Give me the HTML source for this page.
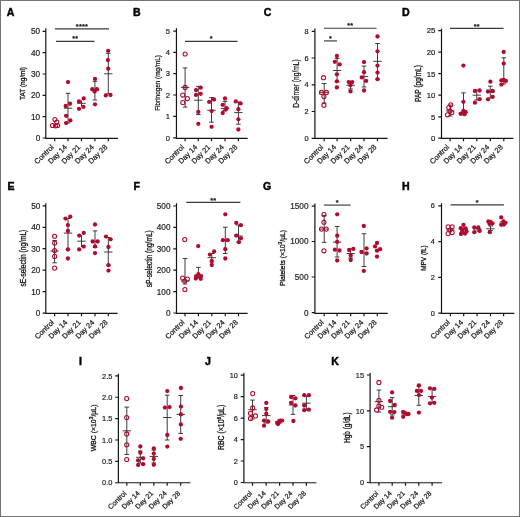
<!DOCTYPE html>
<html><head><meta charset="utf-8"><title>Figure</title>
<style>
html,body{margin:0;padding:0;background:#fff;}
body{width:520px;height:517px;overflow:hidden;}
.fig{position:relative;width:518px;height:515px;border:1px solid #747474;background:#fff;}
svg{position:absolute;left:-1px;top:-1px;filter:blur(0.3px);}
text{font-family:"Liberation Sans", sans-serif;fill:#222;}
.let{font-size:10.6px;font-weight:bold;fill:#000;stroke:#000;stroke-width:0.45px;}
.tl{fill:#1e1e1e;stroke:#1e1e1e;stroke-width:0.2px;}
.xl{fill:#1e1e1e;stroke:#1e1e1e;stroke-width:0.25px;}
.yl{fill:#111;stroke:#111;stroke-width:0.22px;}
.b{stroke-width:0.3px;}
.st{font-size:7.2px;fill:#111;font-weight:bold;stroke:#111;stroke-width:0.15px;letter-spacing:0.3px;}
.ax{stroke:#151515;stroke-width:1.2;fill:none;}
.sg{stroke:#3a3a3a;stroke-width:1.15;fill:none;}
.eb{stroke:#333;stroke-width:0.95;fill:none;}
.pf{fill:#b20a2e;}
.po{fill:none;stroke:#b20a2e;stroke-width:1.05;}
</style></head>
<body><div class="fig">
<svg width="520" height="517" viewBox="0 0 520 517">
<g><text x="6.8" y="16" class="let">A</text><path class="ax" d="M45.8 28.3V138.35H117.9"/><path class="ax" d="M42.6 31.3H45.8M42.6 52.6H45.8M42.6 74H45.8M42.6 95.3H45.8M42.6 116.7H45.8M42.6 138H45.8M54.7 138.35V141.35M68 138.35V141.35M81.5 138.35V141.35M94.9 138.35V141.35M108.3 138.35V141.35"/><text x="40.2" y="34.26" class="tl" font-size="8.21" text-anchor="end">50</text><text x="40.2" y="55.56" class="tl" font-size="8.21" text-anchor="end">40</text><text x="40.2" y="76.96" class="tl" font-size="8.21" text-anchor="end">30</text><text x="40.2" y="98.26" class="tl" font-size="8.21" text-anchor="end">20</text><text x="40.2" y="119.66" class="tl" font-size="8.21" text-anchor="end">10</text><text x="40.2" y="140.96" class="tl" font-size="8.21" text-anchor="end">0</text><text transform="translate(54.2,147.65) rotate(-45)" class="xl" font-size="7.4" text-anchor="end">Control</text><text transform="translate(67.5,147.65) rotate(-45)" class="xl" font-size="7.4" text-anchor="end">Day 14</text><text transform="translate(81,147.65) rotate(-45)" class="xl" font-size="7.4" text-anchor="end">Day 21</text><text transform="translate(94.4,147.65) rotate(-45)" class="xl" font-size="7.4" text-anchor="end">Day 24</text><text transform="translate(107.8,147.65) rotate(-45)" class="xl" font-size="7.4" text-anchor="end">Day 28</text><text transform="translate(24.82,83.5) rotate(-90)" class="yl b" font-size="8.0" text-anchor="middle" textLength="33" lengthAdjust="spacingAndGlyphs">TAT (ng/ml)</text><path class="sg" d="M55 28.9H109"/><text x="82" y="29" class="st" text-anchor="middle">****</text><path class="sg" d="M56 41.3H94.5"/><text x="75.25" y="41.4" class="st" text-anchor="middle">**</text><circle cx="54.9" cy="119.6" r="2.05" class="po"/><circle cx="56.8" cy="122" r="2.05" class="po"/><circle cx="52.5" cy="125.5" r="2.05" class="po"/><circle cx="55.6" cy="125.8" r="2.05" class="po"/><circle cx="57.6" cy="125.5" r="2.05" class="po"/><path class="eb" d="M68 93.3V123M65.7 93.3H70.3M65.7 123H70.3M63.8 108.2H72.2"/><circle cx="68" cy="82.1" r="2.15" class="pf"/><circle cx="70" cy="103.75" r="2.15" class="pf"/><circle cx="65.7" cy="106" r="2.15" class="pf"/><circle cx="66.1" cy="115.8" r="2.15" class="pf"/><circle cx="70.4" cy="120.4" r="2.15" class="pf"/><circle cx="66.1" cy="123.1" r="2.15" class="pf"/><path class="eb" d="M81.5 100.5V106.5M77.3 103.3H85.7"/><circle cx="83.7" cy="98.4" r="2.15" class="pf"/><circle cx="79" cy="101.4" r="2.15" class="pf"/><circle cx="83.5" cy="106.9" r="2.15" class="pf"/><circle cx="79" cy="108.8" r="2.15" class="pf"/><path class="eb" d="M94.9 81.4V100M92.6 81.4H97.2M92.6 100H97.2M90.7 90.6H99.1"/><circle cx="95" cy="78.9" r="2.15" class="pf"/><circle cx="92.3" cy="89.2" r="2.15" class="pf"/><circle cx="96.9" cy="89.2" r="2.15" class="pf"/><circle cx="94.6" cy="91.5" r="2.15" class="pf"/><circle cx="95" cy="104.3" r="2.15" class="pf"/><path class="eb" d="M108.3 53.3V93.8M106 53.3H110.6M106 93.8H110.6M104.1 73.8H112.5"/><circle cx="108.2" cy="50.8" r="2.15" class="pf"/><circle cx="107.9" cy="60.1" r="2.15" class="pf"/><circle cx="108.2" cy="68.7" r="2.15" class="pf"/><circle cx="105.8" cy="95.4" r="2.15" class="pf"/><circle cx="110.5" cy="95" r="2.15" class="pf"/></g>
<g><text x="133.1" y="15.7" class="let">B</text><path class="ax" d="M176.45 28.3V138.35H247.7"/><path class="ax" d="M173.25 31.1H176.45M173.25 52.4H176.45M173.25 73.7H176.45M173.25 95H176.45M173.25 116.4H176.45M173.25 137.8H176.45M185.1 138.35V141.35M198.3 138.35V141.35M211.5 138.35V141.35M225 138.35V141.35M238.4 138.35V141.35"/><text x="170.1" y="33.84" class="tl" font-size="7.6" text-anchor="end">5</text><text x="170.1" y="55.14" class="tl" font-size="7.6" text-anchor="end">4</text><text x="170.1" y="76.44" class="tl" font-size="7.6" text-anchor="end">3</text><text x="170.1" y="97.74" class="tl" font-size="7.6" text-anchor="end">2</text><text x="170.1" y="119.14" class="tl" font-size="7.6" text-anchor="end">1</text><text x="170.1" y="140.54" class="tl" font-size="7.6" text-anchor="end">0</text><text transform="translate(184.6,147.65) rotate(-45)" class="xl" font-size="7.4" text-anchor="end">Control</text><text transform="translate(197.8,147.65) rotate(-45)" class="xl" font-size="7.4" text-anchor="end">Day 14</text><text transform="translate(211,147.65) rotate(-45)" class="xl" font-size="7.4" text-anchor="end">Day 21</text><text transform="translate(224.5,147.65) rotate(-45)" class="xl" font-size="7.4" text-anchor="end">Day 24</text><text transform="translate(237.9,147.65) rotate(-45)" class="xl" font-size="7.4" text-anchor="end">Day 28</text><text transform="translate(159.88,83) rotate(-90)" class="yl" font-size="7.6" text-anchor="middle" textLength="55.6" lengthAdjust="spacingAndGlyphs">Fibrinogen (mg/mL)</text><path class="sg" d="M185 41.3H237.6"/><text x="211.3" y="41.4" class="st" text-anchor="middle">*</text><path class="eb" d="M185.1 67.9V107.1M182.8 67.9H187.4M182.8 107.1H187.4M180.9 87.4H189.3"/><circle cx="185.1" cy="54" r="2.05" class="po"/><circle cx="185.1" cy="87.4" r="2.05" class="po"/><circle cx="182.8" cy="95.1" r="2.05" class="po"/><circle cx="187.4" cy="98.6" r="2.05" class="po"/><circle cx="182.8" cy="102.5" r="2.05" class="po"/><path class="eb" d="M198.3 86.4V114.6M196 86.4H200.6M196 114.6H200.6M194.1 100.2H202.5"/><circle cx="200.7" cy="87.7" r="2.15" class="pf"/><circle cx="196" cy="90.1" r="2.15" class="pf"/><circle cx="196" cy="94.9" r="2.15" class="pf"/><circle cx="200.7" cy="93.8" r="2.15" class="pf"/><circle cx="198.3" cy="111.9" r="2.15" class="pf"/><circle cx="198.3" cy="123.8" r="2.15" class="pf"/><path class="eb" d="M211.5 97.6V122.2M209.2 97.6H213.8M209.2 122.2H213.8M207.3 110.3H215.7"/><circle cx="209.2" cy="101.9" r="2.15" class="pf"/><circle cx="214" cy="99.5" r="2.15" class="pf"/><circle cx="211.6" cy="111.1" r="2.15" class="pf"/><circle cx="211.6" cy="126.8" r="2.15" class="pf"/><path class="eb" d="M225 101.4V110.5M222.7 101.4H227.3M222.7 110.5H227.3M220.8 108.6H229.2"/><circle cx="225" cy="98.5" r="2.15" class="pf"/><circle cx="222.7" cy="104.8" r="2.15" class="pf"/><circle cx="226.6" cy="108.2" r="2.15" class="pf"/><circle cx="225.6" cy="109.7" r="2.15" class="pf"/><circle cx="222.7" cy="113" r="2.15" class="pf"/><path class="eb" d="M238.4 102V124.2M236.1 102H240.7M236.1 124.2H240.7M234.2 112.6H242.6"/><circle cx="235.8" cy="101.4" r="2.15" class="pf"/><circle cx="240.6" cy="103.4" r="2.15" class="pf"/><circle cx="238.4" cy="109.2" r="2.15" class="pf"/><circle cx="238.4" cy="119.3" r="2.15" class="pf"/><circle cx="238.4" cy="129.5" r="2.15" class="pf"/></g>
<g><text x="263.8" y="16.1" class="let">C</text><path class="ax" d="M314.9 28.5V138.35H387.6"/><path class="ax" d="M311.7 31.3H314.9M311.7 58H314.9M311.7 84.8H314.9M311.7 111.5H314.9M311.7 138.3H314.9M324.2 138.35V141.35M337.1 138.35V141.35M350.6 138.35V141.35M364 138.35V141.35M377.5 138.35V141.35"/><text x="308.5" y="33.94" class="tl" font-size="7.34" text-anchor="end">8</text><text x="308.5" y="60.64" class="tl" font-size="7.34" text-anchor="end">6</text><text x="308.5" y="87.44" class="tl" font-size="7.34" text-anchor="end">4</text><text x="308.5" y="114.14" class="tl" font-size="7.34" text-anchor="end">2</text><text x="308.5" y="140.94" class="tl" font-size="7.34" text-anchor="end">0</text><text transform="translate(323.7,147.65) rotate(-45)" class="xl" font-size="7.4" text-anchor="end">Control</text><text transform="translate(336.6,147.65) rotate(-45)" class="xl" font-size="7.4" text-anchor="end">Day 14</text><text transform="translate(350.1,147.65) rotate(-45)" class="xl" font-size="7.4" text-anchor="end">Day 21</text><text transform="translate(363.5,147.65) rotate(-45)" class="xl" font-size="7.4" text-anchor="end">Day 24</text><text transform="translate(377,147.65) rotate(-45)" class="xl" font-size="7.4" text-anchor="end">Day 28</text><text transform="translate(299.39,83.5) rotate(-90)" class="yl" font-size="8.5" text-anchor="middle" textLength="48.4" lengthAdjust="spacingAndGlyphs">D-dimer (ng/mL)</text><path class="sg" d="M324 28.2H376.6"/><text x="350.3" y="28.3" class="st" text-anchor="middle">**</text><path class="sg" d="M324 40.9H336.9"/><text x="330.45" y="41" class="st" text-anchor="middle">*</text><path class="eb" d="M324.2 83.5V103M321.9 83.5H326.5M321.9 103H326.5M320 92.4H328.4"/><circle cx="323.5" cy="77.7" r="2.05" class="po"/><circle cx="321.4" cy="92.4" r="2.05" class="po"/><circle cx="326.4" cy="92.4" r="2.05" class="po"/><circle cx="323.9" cy="96.5" r="2.05" class="po"/><circle cx="323.9" cy="105.2" r="2.05" class="po"/><path class="eb" d="M337.1 58.6V82M334.8 58.6H339.4M334.8 82H339.4M332.9 70.5H341.3"/><circle cx="336.9" cy="56" r="2.15" class="pf"/><circle cx="334.8" cy="61.8" r="2.15" class="pf"/><circle cx="339.7" cy="64.4" r="2.15" class="pf"/><circle cx="336.9" cy="74.3" r="2.15" class="pf"/><circle cx="336.9" cy="81.3" r="2.15" class="pf"/><circle cx="336.9" cy="87.4" r="2.15" class="pf"/><path class="eb" d="M350.6 81.5V89M348.3 81.5H352.9M348.3 89H352.9M346.4 85.3H354.8"/><circle cx="348.7" cy="82.1" r="2.15" class="pf"/><circle cx="352.2" cy="82.1" r="2.15" class="pf"/><circle cx="350.5" cy="85.3" r="2.15" class="pf"/><circle cx="350.5" cy="91.4" r="2.15" class="pf"/><path class="eb" d="M364 66.1V87M361.7 66.1H366.3M361.7 87H366.3M359.8 76.6H368.2"/><circle cx="364" cy="62.1" r="2.15" class="pf"/><circle cx="364" cy="72.2" r="2.15" class="pf"/><circle cx="361.8" cy="77.4" r="2.15" class="pf"/><circle cx="366.1" cy="80.9" r="2.15" class="pf"/><circle cx="364" cy="90.5" r="2.15" class="pf"/><path class="eb" d="M377.5 43.5V79M375.2 43.5H379.8M375.2 79H379.8M373.3 61.3H381.7"/><circle cx="377.5" cy="36.5" r="2.15" class="pf"/><circle cx="377.5" cy="51.3" r="2.15" class="pf"/><circle cx="377.5" cy="65.6" r="2.15" class="pf"/><circle cx="377.5" cy="72.6" r="2.15" class="pf"/><circle cx="377.5" cy="79.2" r="2.15" class="pf"/></g>
<g><text x="402" y="16.1" class="let">D</text><path class="ax" d="M441.5 28.7V138.35H513.4"/><path class="ax" d="M438.3 30.6H441.5M438.3 52.2H441.5M438.3 73.7H441.5M438.3 95.2H441.5M438.3 116.8H441.5M438.3 138.1H441.5M450.1 138.35V141.35M463.5 138.35V141.35M476.8 138.35V141.35M490.3 138.35V141.35M503.8 138.35V141.35"/><text x="435.3" y="33.4" class="tl" font-size="7.78" text-anchor="end">25</text><text x="435.3" y="55" class="tl" font-size="7.78" text-anchor="end">20</text><text x="435.3" y="76.5" class="tl" font-size="7.78" text-anchor="end">15</text><text x="435.3" y="98" class="tl" font-size="7.78" text-anchor="end">10</text><text x="435.3" y="119.6" class="tl" font-size="7.78" text-anchor="end">5</text><text x="435.3" y="140.9" class="tl" font-size="7.78" text-anchor="end">0</text><text transform="translate(449.6,147.65) rotate(-45)" class="xl" font-size="7.4" text-anchor="end">Control</text><text transform="translate(463,147.65) rotate(-45)" class="xl" font-size="7.4" text-anchor="end">Day 14</text><text transform="translate(476.3,147.65) rotate(-45)" class="xl" font-size="7.4" text-anchor="end">Day 21</text><text transform="translate(489.8,147.65) rotate(-45)" class="xl" font-size="7.4" text-anchor="end">Day 24</text><text transform="translate(503.3,147.65) rotate(-45)" class="xl" font-size="7.4" text-anchor="end">Day 28</text><text transform="translate(421.29,83.5) rotate(-90)" class="yl b" font-size="8.5" text-anchor="middle" textLength="36.8" lengthAdjust="spacingAndGlyphs">PAP (pg/mL)</text><path class="sg" d="M450 28.4H503.5"/><text x="476.75" y="28.5" class="st" text-anchor="middle">**</text><path class="eb" d="M450.1 105V116M447.8 105H452.4M447.8 116H452.4M445.9 110.9H454.3"/><circle cx="450.8" cy="104.8" r="2.05" class="po"/><circle cx="448.8" cy="107.5" r="2.05" class="po"/><circle cx="451.8" cy="112.5" r="2.05" class="po"/><circle cx="447.5" cy="114.8" r="2.05" class="po"/><circle cx="450" cy="111" r="2.05" class="po"/><path class="eb" d="M463.5 92.9V113.5M461.2 92.9H465.8M461.2 113.5H465.8M459.3 112.5H467.7"/><circle cx="463.4" cy="65.6" r="2.15" class="pf"/><circle cx="463.4" cy="101.8" r="2.15" class="pf"/><circle cx="462" cy="113.3" r="2.15" class="pf"/><circle cx="465.6" cy="112" r="2.15" class="pf"/><circle cx="460.6" cy="113.8" r="2.15" class="pf"/><circle cx="463.4" cy="110.8" r="2.15" class="pf"/><circle cx="464.5" cy="114.2" r="2.15" class="pf"/><path class="eb" d="M476.8 90V100M474.5 90H479.1M474.5 100H479.1M472.6 95.2H481"/><circle cx="474.9" cy="91" r="2.15" class="pf"/><circle cx="479.6" cy="90.5" r="2.15" class="pf"/><circle cx="479.6" cy="99.2" r="2.15" class="pf"/><circle cx="474.9" cy="102.7" r="2.15" class="pf"/><path class="eb" d="M490.3 86.2V98M488 86.2H492.6M488 98H492.6M486.1 92H494.5"/><circle cx="490.4" cy="81.7" r="2.15" class="pf"/><circle cx="488" cy="91.5" r="2.15" class="pf"/><circle cx="492.7" cy="91" r="2.15" class="pf"/><circle cx="492.7" cy="96.8" r="2.15" class="pf"/><circle cx="488" cy="99.3" r="2.15" class="pf"/><path class="eb" d="M503.8 57.8V84M501.5 57.8H506.1M501.5 84H506.1M499.6 81H508"/><circle cx="503.7" cy="51.9" r="2.15" class="pf"/><circle cx="503.7" cy="63.6" r="2.15" class="pf"/><circle cx="503.7" cy="79.8" r="2.15" class="pf"/><circle cx="501.4" cy="80.4" r="2.15" class="pf"/><circle cx="505.8" cy="80.9" r="2.15" class="pf"/><circle cx="501.4" cy="84.6" r="2.15" class="pf"/></g>
<g><text x="7.5" y="190.1" class="let">E</text><path class="ax" d="M45.8 203.3V313.35H117.6"/><path class="ax" d="M42.6 205.8H45.8M42.6 227.3H45.8M42.6 248.7H45.8M42.6 270.1H45.8M42.6 291.6H45.8M42.6 313.1H45.8M54.6 313.35V316.35M68 313.35V316.35M81.5 313.35V316.35M95 313.35V316.35M108.3 313.35V316.35"/><text x="40.4" y="208.76" class="tl" font-size="8.21" text-anchor="end">50</text><text x="40.4" y="230.26" class="tl" font-size="8.21" text-anchor="end">40</text><text x="40.4" y="251.66" class="tl" font-size="8.21" text-anchor="end">30</text><text x="40.4" y="273.06" class="tl" font-size="8.21" text-anchor="end">20</text><text x="40.4" y="294.56" class="tl" font-size="8.21" text-anchor="end">10</text><text x="40.4" y="316.06" class="tl" font-size="8.21" text-anchor="end">0</text><text transform="translate(54.5,322.85) rotate(-45)" class="xl" font-size="7.35" text-anchor="end">Control</text><text transform="translate(67.9,322.85) rotate(-45)" class="xl" font-size="7.35" text-anchor="end">Day 14</text><text transform="translate(81.4,322.85) rotate(-45)" class="xl" font-size="7.35" text-anchor="end">Day 21</text><text transform="translate(94.9,322.85) rotate(-45)" class="xl" font-size="7.35" text-anchor="end">Day 24</text><text transform="translate(108.2,322.85) rotate(-45)" class="xl" font-size="7.35" text-anchor="end">Day 28</text><text transform="translate(25.59,258.1) rotate(-90)" class="yl b" font-size="8.5" text-anchor="middle" textLength="56.8" lengthAdjust="spacingAndGlyphs">sE-selectin (ng/mL)</text><path class="eb" d="M54.6 240.5V262.8M52.3 240.5H56.9M52.3 262.8H56.9M50.4 251H58.8"/><circle cx="54.6" cy="236.2" r="2.05" class="po"/><circle cx="54.6" cy="243" r="2.05" class="po"/><circle cx="54.6" cy="250.6" r="2.05" class="po"/><circle cx="54.6" cy="256.4" r="2.05" class="po"/><circle cx="54.6" cy="268.1" r="2.05" class="po"/><path class="eb" d="M68 218.5V249.4M65.7 218.5H70.3M65.7 249.4H70.3M63.8 233.1H72.2"/><circle cx="65.5" cy="218.6" r="2.15" class="pf"/><circle cx="70.2" cy="216.7" r="2.15" class="pf"/><circle cx="67.9" cy="225.1" r="2.15" class="pf"/><circle cx="67.9" cy="231" r="2.15" class="pf"/><circle cx="67.9" cy="249.5" r="2.15" class="pf"/><circle cx="67.9" cy="258.5" r="2.15" class="pf"/><path class="eb" d="M81.5 235V247M77.3 241.2H85.7"/><circle cx="79.2" cy="235.6" r="2.15" class="pf"/><circle cx="83.7" cy="232.9" r="2.15" class="pf"/><circle cx="83.7" cy="246.6" r="2.15" class="pf"/><circle cx="79.2" cy="249.4" r="2.15" class="pf"/><path class="eb" d="M95 230.9V247.5M92.7 230.9H97.3M92.7 247.5H97.3M90.8 241.2H99.2"/><circle cx="95" cy="224.5" r="2.15" class="pf"/><circle cx="92.6" cy="241.5" r="2.15" class="pf"/><circle cx="97.6" cy="241.5" r="2.15" class="pf"/><circle cx="95" cy="246.4" r="2.15" class="pf"/><circle cx="95" cy="253.1" r="2.15" class="pf"/><path class="eb" d="M108.3 237.5V265M106 237.5H110.6M106 265H110.6M104.1 252H112.5"/><circle cx="106" cy="236.6" r="2.15" class="pf"/><circle cx="110.6" cy="239.3" r="2.15" class="pf"/><circle cx="108.5" cy="247" r="2.15" class="pf"/><circle cx="108.5" cy="265.2" r="2.15" class="pf"/><circle cx="108.5" cy="270.6" r="2.15" class="pf"/></g>
<g><text x="133.5" y="190.1" class="let">F</text><path class="ax" d="M176.5 203.3V313.35H247.6"/><path class="ax" d="M173.3 206H176.5M173.3 227.4H176.5M173.3 248.8H176.5M173.3 270.2H176.5M173.3 291.6H176.5M173.3 313H176.5M185 313.35V316.35M198.4 313.35V316.35M211.8 313.35V316.35M225.3 313.35V316.35M238.5 313.35V316.35"/><text x="170.5" y="208.96" class="tl" font-size="8.21" text-anchor="end">500</text><text x="170.5" y="230.36" class="tl" font-size="8.21" text-anchor="end">400</text><text x="170.5" y="251.76" class="tl" font-size="8.21" text-anchor="end">300</text><text x="170.5" y="273.16" class="tl" font-size="8.21" text-anchor="end">200</text><text x="170.5" y="294.56" class="tl" font-size="8.21" text-anchor="end">100</text><text x="170.5" y="315.96" class="tl" font-size="8.21" text-anchor="end">0</text><text transform="translate(184.9,322.85) rotate(-45)" class="xl" font-size="7.35" text-anchor="end">Control</text><text transform="translate(198.3,322.85) rotate(-45)" class="xl" font-size="7.35" text-anchor="end">Day 14</text><text transform="translate(211.7,322.85) rotate(-45)" class="xl" font-size="7.35" text-anchor="end">Day 21</text><text transform="translate(225.2,322.85) rotate(-45)" class="xl" font-size="7.35" text-anchor="end">Day 24</text><text transform="translate(238.4,322.85) rotate(-45)" class="xl" font-size="7.35" text-anchor="end">Day 28</text><text transform="translate(152.29,258.7) rotate(-90)" class="yl b" font-size="8.5" text-anchor="middle" textLength="57" lengthAdjust="spacingAndGlyphs">sP-selectin (ng/mL)</text><path class="sg" d="M186.3 202.4H240.4"/><text x="213.35" y="202.5" class="st" text-anchor="middle">**</text><path class="eb" d="M185 258.5V284M182.7 258.5H187.3M182.7 284H187.3M180.8 281H189.2"/><circle cx="184.7" cy="239.6" r="2.05" class="po"/><circle cx="182.6" cy="278" r="2.05" class="po"/><circle cx="187.4" cy="279" r="2.05" class="po"/><circle cx="184.7" cy="281" r="2.05" class="po"/><circle cx="184.9" cy="289.5" r="2.05" class="po"/><path class="eb" d="M198.4 267.4V278M196.1 267.4H200.7M196.1 278H200.7M194.2 276H202.6"/><circle cx="198.2" cy="246.1" r="2.15" class="pf"/><circle cx="196.3" cy="276.1" r="2.15" class="pf"/><circle cx="198.4" cy="274.2" r="2.15" class="pf"/><circle cx="201.1" cy="276.1" r="2.15" class="pf"/><circle cx="195.8" cy="278.5" r="2.15" class="pf"/><circle cx="200.7" cy="278.8" r="2.15" class="pf"/><path class="eb" d="M211.8 253.5V262M209.5 253.5H214.1M209.5 262H214.1M207.6 257.7H216"/><circle cx="214.1" cy="251.5" r="2.15" class="pf"/><circle cx="209.9" cy="254.6" r="2.15" class="pf"/><circle cx="211.8" cy="260.8" r="2.15" class="pf"/><circle cx="211.8" cy="265" r="2.15" class="pf"/><path class="eb" d="M225.3 227.2V253.5M223 227.2H227.6M223 253.5H227.6M221.1 240H229.5"/><circle cx="225.3" cy="214.3" r="2.15" class="pf"/><circle cx="222.9" cy="240.2" r="2.15" class="pf"/><circle cx="227.6" cy="240.2" r="2.15" class="pf"/><circle cx="225.3" cy="249.2" r="2.15" class="pf"/><circle cx="225.3" cy="258.5" r="2.15" class="pf"/><path class="eb" d="M238.5 225V242M236.2 225H240.8M236.2 242H240.8M234.3 236H242.7"/><circle cx="236.3" cy="222.9" r="2.15" class="pf"/><circle cx="240.9" cy="225.2" r="2.15" class="pf"/><circle cx="236.3" cy="235.6" r="2.15" class="pf"/><circle cx="240.9" cy="238.3" r="2.15" class="pf"/><circle cx="238.9" cy="242.2" r="2.15" class="pf"/></g>
<g><text x="263.1" y="190.4" class="let">G</text><path class="ax" d="M314.9 203.5V313.35H387.7"/><path class="ax" d="M311.7 206.1H314.9M311.7 241.5H314.9M311.7 277H314.9M311.7 312.6H314.9M324.2 313.35V316.35M337.1 313.35V316.35M350.6 313.35V316.35M364 313.35V316.35M377.3 313.35V316.35"/><text x="308.5" y="209.06" class="tl" font-size="8.21" text-anchor="end">1500</text><text x="308.5" y="244.46" class="tl" font-size="8.21" text-anchor="end">1000</text><text x="308.5" y="279.96" class="tl" font-size="8.21" text-anchor="end">500</text><text x="308.5" y="315.56" class="tl" font-size="8.21" text-anchor="end">0</text><text transform="translate(324.1,322.85) rotate(-45)" class="xl" font-size="7.35" text-anchor="end">Control</text><text transform="translate(337,322.85) rotate(-45)" class="xl" font-size="7.35" text-anchor="end">Day 14</text><text transform="translate(350.5,322.85) rotate(-45)" class="xl" font-size="7.35" text-anchor="end">Day 21</text><text transform="translate(363.9,322.85) rotate(-45)" class="xl" font-size="7.35" text-anchor="end">Day 24</text><text transform="translate(377.2,322.85) rotate(-45)" class="xl" font-size="7.35" text-anchor="end">Day 28</text><text transform="translate(284.62,258) rotate(-90)" class="yl b" font-size="8.0" text-anchor="middle" textLength="56.2" lengthAdjust="spacingAndGlyphs">Platelets (×10<tspan dy="-2.6" font-size="5.8">3</tspan><tspan dy="2.6">/µL)</tspan></text><path class="sg" d="M323.9 205.1H350.7"/><text x="337.3" y="205.2" class="st" text-anchor="middle">*</text><path class="eb" d="M324.2 215.4V242.4M321.9 215.4H326.5M321.9 242.4H326.5M320 229.1H328.4"/><circle cx="323.9" cy="214.5" r="2.05" class="po"/><circle cx="323.9" cy="222.2" r="2.05" class="po"/><circle cx="321.5" cy="229.1" r="2.05" class="po"/><circle cx="326.2" cy="229.1" r="2.05" class="po"/><circle cx="323.9" cy="250.8" r="2.05" class="po"/><path class="eb" d="M337.1 226.5V257M334.8 226.5H339.4M334.8 257H339.4M332.9 242.1H341.3"/><circle cx="337.2" cy="214.3" r="2.15" class="pf"/><circle cx="337.2" cy="235.7" r="2.15" class="pf"/><circle cx="337.2" cy="241.9" r="2.15" class="pf"/><circle cx="334.9" cy="249.7" r="2.15" class="pf"/><circle cx="339.5" cy="250.5" r="2.15" class="pf"/><circle cx="337.2" cy="260.5" r="2.15" class="pf"/><path class="eb" d="M350.6 249V258M348.3 249H352.9M348.3 258H352.9M346.4 253.5H354.8"/><circle cx="349.1" cy="250" r="2.15" class="pf"/><circle cx="353.3" cy="248.9" r="2.15" class="pf"/><circle cx="350.7" cy="255.4" r="2.15" class="pf"/><circle cx="350.7" cy="260" r="2.15" class="pf"/><path class="eb" d="M364 233.7V266.5M361.7 233.7H366.3M361.7 266.5H366.3M359.8 253H368.2"/><circle cx="363.8" cy="226" r="2.15" class="pf"/><circle cx="361.5" cy="252" r="2.15" class="pf"/><circle cx="366.6" cy="248.4" r="2.15" class="pf"/><circle cx="366.6" cy="253.5" r="2.15" class="pf"/><circle cx="363.8" cy="270.9" r="2.15" class="pf"/><circle cx="377" cy="243" r="2.15" class="pf"/><circle cx="375" cy="246.4" r="2.15" class="pf"/><circle cx="380.1" cy="249.2" r="2.15" class="pf"/><circle cx="377" cy="250.7" r="2.15" class="pf"/><circle cx="377" cy="256.6" r="2.15" class="pf"/></g>
<g><text x="402" y="190.1" class="let">H</text><path class="ax" d="M441.5 203.3V313.35H514.3"/><path class="ax" d="M438.3 205.8H441.5M438.3 241.6H441.5M438.3 277.4H441.5M438.3 313.2H441.5M450.4 313.35V316.35M463.7 313.35V316.35M477.1 313.35V316.35M490.5 313.35V316.35M503.6 313.35V316.35"/><text x="434.9" y="208.44" class="tl" font-size="7.34" text-anchor="end">6</text><text x="434.9" y="244.24" class="tl" font-size="7.34" text-anchor="end">4</text><text x="434.9" y="280.04" class="tl" font-size="7.34" text-anchor="end">2</text><text x="434.9" y="315.84" class="tl" font-size="7.34" text-anchor="end">0</text><text transform="translate(450.3,322.85) rotate(-45)" class="xl" font-size="7.35" text-anchor="end">Control</text><text transform="translate(463.6,322.85) rotate(-45)" class="xl" font-size="7.35" text-anchor="end">Day 14</text><text transform="translate(477,322.85) rotate(-45)" class="xl" font-size="7.35" text-anchor="end">Day 21</text><text transform="translate(490.4,322.85) rotate(-45)" class="xl" font-size="7.35" text-anchor="end">Day 24</text><text transform="translate(503.5,322.85) rotate(-45)" class="xl" font-size="7.35" text-anchor="end">Day 28</text><text transform="translate(425.82,258.1) rotate(-90)" class="yl b" font-size="8.0" text-anchor="middle" textLength="25.4" lengthAdjust="spacingAndGlyphs">MPV (fL)</text><path class="sg" d="M450.5 204.8H503.9"/><text x="477.2" y="204.9" class="st" text-anchor="middle">*</text><path class="eb" d="M450.4 228V232M446.2 230H454.6"/><circle cx="448.1" cy="226.8" r="2.05" class="po"/><circle cx="452.1" cy="226.8" r="2.05" class="po"/><circle cx="448.1" cy="233.6" r="2.05" class="po"/><circle cx="452.1" cy="232.4" r="2.05" class="po"/><circle cx="450" cy="230" r="2.05" class="po"/><path class="eb" d="M463.7 226.5V232.5M459.5 229.5H467.9"/><circle cx="463.5" cy="224.8" r="2.15" class="pf"/><circle cx="460.8" cy="228.2" r="2.15" class="pf"/><circle cx="465.6" cy="228.5" r="2.15" class="pf"/><circle cx="462.2" cy="231" r="2.15" class="pf"/><circle cx="466.5" cy="231.5" r="2.15" class="pf"/><circle cx="461" cy="234" r="2.15" class="pf"/><circle cx="465" cy="233.6" r="2.15" class="pf"/><path class="eb" d="M477.1 227V232M472.9 228.8H481.3"/><circle cx="474.3" cy="227.5" r="2.15" class="pf"/><circle cx="478.3" cy="227.5" r="2.15" class="pf"/><circle cx="474.3" cy="232.2" r="2.15" class="pf"/><circle cx="479.7" cy="230.9" r="2.15" class="pf"/><path class="eb" d="M490.5 226V230.5M488.2 226H492.8M488.2 230.5H492.8M486.3 228.8H494.7"/><circle cx="488.4" cy="221.4" r="2.15" class="pf"/><circle cx="492.5" cy="223.5" r="2.15" class="pf"/><circle cx="489.5" cy="223.8" r="2.15" class="pf"/><circle cx="490.5" cy="222" r="2.15" class="pf"/><circle cx="489.8" cy="232.2" r="2.15" class="pf"/><path class="eb" d="M503.6 219.5V224.5M499.4 222H507.8"/><circle cx="501.2" cy="217.4" r="2.15" class="pf"/><circle cx="505.3" cy="222.8" r="2.15" class="pf"/><circle cx="501.2" cy="224.8" r="2.15" class="pf"/><circle cx="503.5" cy="221.5" r="2.15" class="pf"/><circle cx="504" cy="224.5" r="2.15" class="pf"/></g>
<g><text x="79.1" y="364.9" class="let">I</text><path class="ax" d="M118.4 373.7V482.75H190.4"/><path class="ax" d="M115.2 375.9H118.4M115.2 397.25H118.4M115.2 418.6H118.4M115.2 440H118.4M115.2 461.4H118.4M115.2 482.75H118.4M126.8 482.75V485.75M140.3 482.75V485.75M153.8 482.75V485.75M167.2 482.75V485.75M180.7 482.75V485.75"/><text x="112.4" y="378.56" class="tl" font-size="7.4" text-anchor="end">2.5</text><text x="112.4" y="399.91" class="tl" font-size="7.4" text-anchor="end">2.0</text><text x="112.4" y="421.26" class="tl" font-size="7.4" text-anchor="end">1.5</text><text x="112.4" y="442.66" class="tl" font-size="7.4" text-anchor="end">1.0</text><text x="112.4" y="464.06" class="tl" font-size="7.4" text-anchor="end">0.5</text><text x="112.4" y="485.41" class="tl" font-size="7.4" text-anchor="end">0.0</text><text transform="translate(126.8,493.85) rotate(-45)" class="xl" font-size="7.0" text-anchor="end">Control</text><text transform="translate(140.3,493.85) rotate(-45)" class="xl" font-size="7.0" text-anchor="end">Day 14</text><text transform="translate(153.8,493.85) rotate(-45)" class="xl" font-size="7.0" text-anchor="end">Day 21</text><text transform="translate(167.2,493.85) rotate(-45)" class="xl" font-size="7.0" text-anchor="end">Day 24</text><text transform="translate(180.7,493.85) rotate(-45)" class="xl" font-size="7.0" text-anchor="end">Day 28</text><text transform="translate(95.72,427.9) rotate(-90)" class="yl b" font-size="8.0" text-anchor="middle" textLength="46.7" lengthAdjust="spacingAndGlyphs">WBC (×10<tspan dy="-2.6" font-size="5.8">3</tspan><tspan dy="2.6">/µL)</tspan></text><path class="eb" d="M126.8 407.1V454.5M124.5 407.1H129.1M124.5 454.5H129.1M122.6 430.8H131"/><circle cx="126.7" cy="398.6" r="2.05" class="po"/><circle cx="126.7" cy="417.5" r="2.05" class="po"/><circle cx="126.7" cy="433.9" r="2.05" class="po"/><circle cx="126.7" cy="444.7" r="2.05" class="po"/><circle cx="126.7" cy="459.5" r="2.05" class="po"/><path class="eb" d="M140.3 451V463M138 451H142.6M138 463H142.6M136.1 457.3H144.5"/><circle cx="140.3" cy="446.5" r="2.15" class="pf"/><circle cx="140.3" cy="452.7" r="2.15" class="pf"/><circle cx="138.1" cy="460.3" r="2.15" class="pf"/><circle cx="143.1" cy="458.3" r="2.15" class="pf"/><circle cx="138.1" cy="465" r="2.15" class="pf"/><circle cx="143.1" cy="464.2" r="2.15" class="pf"/><path class="eb" d="M153.8 450V463M151.5 450H156.1M151.5 463H156.1M149.6 456.4H158"/><circle cx="153.8" cy="448.5" r="2.15" class="pf"/><circle cx="153.8" cy="453.6" r="2.15" class="pf"/><circle cx="153.8" cy="459" r="2.15" class="pf"/><circle cx="153.8" cy="464.8" r="2.15" class="pf"/><path class="eb" d="M167.2 395.2V440M164.9 395.2H169.5M164.9 440H169.5M163 417.5H171.4"/><circle cx="167.3" cy="391.1" r="2.15" class="pf"/><circle cx="164.9" cy="407.6" r="2.15" class="pf"/><circle cx="169.6" cy="407.1" r="2.15" class="pf"/><circle cx="167.3" cy="435" r="2.15" class="pf"/><circle cx="167.3" cy="446.6" r="2.15" class="pf"/><path class="eb" d="M180.7 395.5V433.4M178.4 395.5H183M178.4 433.4H183M176.5 414.4H184.9"/><circle cx="180.9" cy="388" r="2.15" class="pf"/><circle cx="180.9" cy="406.6" r="2.15" class="pf"/><circle cx="180.9" cy="414.4" r="2.15" class="pf"/><circle cx="180.9" cy="424.4" r="2.15" class="pf"/><circle cx="180.7" cy="438.8" r="2.15" class="pf"/></g>
<g><text x="205" y="364.9" class="let">J</text><path class="ax" d="M243.9 372.9V482.75H316.4"/><path class="ax" d="M240.7 375.2H243.9M240.7 396.6H243.9M240.7 418.1H243.9M240.7 439.6H243.9M240.7 461H243.9M240.7 482.5H243.9M252.5 482.75V485.75M266.2 482.75V485.75M279.6 482.75V485.75M293 482.75V485.75M306.4 482.75V485.75"/><text x="237.9" y="377.83" class="tl" font-size="7.3" text-anchor="end">10</text><text x="237.9" y="399.23" class="tl" font-size="7.3" text-anchor="end">8</text><text x="237.9" y="420.73" class="tl" font-size="7.3" text-anchor="end">6</text><text x="237.9" y="442.23" class="tl" font-size="7.3" text-anchor="end">4</text><text x="237.9" y="463.63" class="tl" font-size="7.3" text-anchor="end">2</text><text x="237.9" y="485.13" class="tl" font-size="7.3" text-anchor="end">0</text><text transform="translate(252.5,493.85) rotate(-45)" class="xl" font-size="7.0" text-anchor="end">Control</text><text transform="translate(266.2,493.85) rotate(-45)" class="xl" font-size="7.0" text-anchor="end">Day 14</text><text transform="translate(279.6,493.85) rotate(-45)" class="xl" font-size="7.0" text-anchor="end">Day 21</text><text transform="translate(293,493.85) rotate(-45)" class="xl" font-size="7.0" text-anchor="end">Day 24</text><text transform="translate(306.4,493.85) rotate(-45)" class="xl" font-size="7.0" text-anchor="end">Day 28</text><text transform="translate(223.62,427.4) rotate(-90)" class="yl b" font-size="8.3" text-anchor="middle" textLength="45.3" lengthAdjust="spacingAndGlyphs">RBC (×10<tspan dy="-2.6" font-size="5.8">6</tspan><tspan dy="2.6">/µL)</tspan></text><path class="eb" d="M252.5 400.1V419M250.2 400.1H254.8M250.2 419H254.8M248.3 409.7H256.7"/><circle cx="252.7" cy="393.6" r="2.05" class="po"/><circle cx="252.7" cy="407.9" r="2.05" class="po"/><circle cx="250.5" cy="413.3" r="2.05" class="po"/><circle cx="255.5" cy="415.9" r="2.05" class="po"/><circle cx="250.5" cy="418.4" r="2.05" class="po"/><path class="eb" d="M266.2 407.6V423M263.9 407.6H268.5M263.9 423H268.5M262 415.6H270.4"/><circle cx="266.3" cy="402.9" r="2.15" class="pf"/><circle cx="266.3" cy="409.1" r="2.15" class="pf"/><circle cx="266.3" cy="413.7" r="2.15" class="pf"/><circle cx="264" cy="420.6" r="2.15" class="pf"/><circle cx="268.2" cy="421.5" r="2.15" class="pf"/><circle cx="264" cy="425.7" r="2.15" class="pf"/><path class="eb" d="M279.6 420V423M277.3 420H281.9M277.3 423H281.9M275.4 421.5H283.8"/><circle cx="277.2" cy="423" r="2.15" class="pf"/><circle cx="280.2" cy="420.6" r="2.15" class="pf"/><circle cx="282.1" cy="420.6" r="2.15" class="pf"/><circle cx="279" cy="422" r="2.15" class="pf"/><circle cx="278" cy="424" r="2.15" class="pf"/><path class="eb" d="M293 395.5V414.4M290.7 395.5H295.3M290.7 414.4H295.3M288.8 405H297.2"/><circle cx="291.1" cy="397" r="2.15" class="pf"/><circle cx="295.4" cy="398.3" r="2.15" class="pf"/><circle cx="291.1" cy="402.9" r="2.15" class="pf"/><circle cx="295.4" cy="405.5" r="2.15" class="pf"/><circle cx="293.4" cy="421" r="2.15" class="pf"/><path class="eb" d="M306.4 396.3V410M304.1 396.3H308.7M304.1 410H308.7M302.2 403.2H310.6"/><circle cx="304.2" cy="395.2" r="2.15" class="pf"/><circle cx="308.9" cy="395.2" r="2.15" class="pf"/><circle cx="304.2" cy="405.5" r="2.15" class="pf"/><circle cx="304.2" cy="410.2" r="2.15" class="pf"/><circle cx="308.9" cy="409.7" r="2.15" class="pf"/></g>
<g><text x="331.3" y="365.1" class="let">K</text><path class="ax" d="M370.1 372.9V482.75H441.9"/><path class="ax" d="M366.9 375H370.1M366.9 410.9H370.1M366.9 446.7H370.1M366.9 482.5H370.1M378.9 482.75V485.75M392.2 482.75V485.75M405.5 482.75V485.75M418.8 482.75V485.75M432.1 482.75V485.75"/><text x="364" y="377.66" class="tl" font-size="7.4" text-anchor="end">15</text><text x="364" y="413.56" class="tl" font-size="7.4" text-anchor="end">10</text><text x="364" y="449.36" class="tl" font-size="7.4" text-anchor="end">5</text><text x="364" y="485.16" class="tl" font-size="7.4" text-anchor="end">0</text><text transform="translate(378.9,493.85) rotate(-45)" class="xl" font-size="7.0" text-anchor="end">Control</text><text transform="translate(392.2,493.85) rotate(-45)" class="xl" font-size="7.0" text-anchor="end">Day 14</text><text transform="translate(405.5,493.85) rotate(-45)" class="xl" font-size="7.0" text-anchor="end">Day 21</text><text transform="translate(418.8,493.85) rotate(-45)" class="xl" font-size="7.0" text-anchor="end">Day 24</text><text transform="translate(432.1,493.85) rotate(-45)" class="xl" font-size="7.0" text-anchor="end">Day 28</text><text transform="translate(350.19,427.7) rotate(-90)" class="yl b" font-size="8.8" text-anchor="middle" textLength="30.5" lengthAdjust="spacingAndGlyphs">Hgb (g/dL)</text><path class="eb" d="M378.9 390.1V412.1M376.6 390.1H381.2M376.6 412.1H381.2M374.7 401.7H383.1"/><circle cx="378.9" cy="382.4" r="2.05" class="po"/><circle cx="378.9" cy="400.2" r="2.05" class="po"/><circle cx="378.9" cy="405.9" r="2.05" class="po"/><circle cx="381.7" cy="407.2" r="2.05" class="po"/><circle cx="376.6" cy="409.9" r="2.05" class="po"/><path class="eb" d="M392.2 397.6V415M389.9 397.6H394.5M389.9 415H394.5M388 406.7H396.4"/><circle cx="392.1" cy="392.4" r="2.15" class="pf"/><circle cx="390.1" cy="401" r="2.15" class="pf"/><circle cx="394.7" cy="404.8" r="2.15" class="pf"/><circle cx="390.1" cy="411.8" r="2.15" class="pf"/><circle cx="394.4" cy="412.1" r="2.15" class="pf"/><circle cx="392.1" cy="417.7" r="2.15" class="pf"/><path class="eb" d="M405.5 412.5V415.5M401.3 414H409.7"/><circle cx="403.2" cy="412" r="2.15" class="pf"/><circle cx="407" cy="414" r="2.15" class="pf"/><circle cx="403.2" cy="416.8" r="2.15" class="pf"/><circle cx="408.5" cy="414" r="2.15" class="pf"/><circle cx="405.2" cy="413.2" r="2.15" class="pf"/><path class="eb" d="M418.8 386V405.3M416.5 386H421.1M416.5 405.3H421.1M414.6 395.5H423"/><circle cx="418.9" cy="385.5" r="2.15" class="pf"/><circle cx="416.9" cy="390.9" r="2.15" class="pf"/><circle cx="421" cy="390.9" r="2.15" class="pf"/><circle cx="418.9" cy="395.1" r="2.15" class="pf"/><circle cx="418.9" cy="412.6" r="2.15" class="pf"/><path class="eb" d="M432.1 388.3V402.8M429.8 388.3H434.4M429.8 402.8H434.4M427.9 396.6H436.3"/><circle cx="430" cy="388.3" r="2.15" class="pf"/><circle cx="434.3" cy="388.9" r="2.15" class="pf"/><circle cx="431.9" cy="397.6" r="2.15" class="pf"/><circle cx="430" cy="403.3" r="2.15" class="pf"/><circle cx="434.3" cy="402.8" r="2.15" class="pf"/></g>
</svg>
</div></body></html>
